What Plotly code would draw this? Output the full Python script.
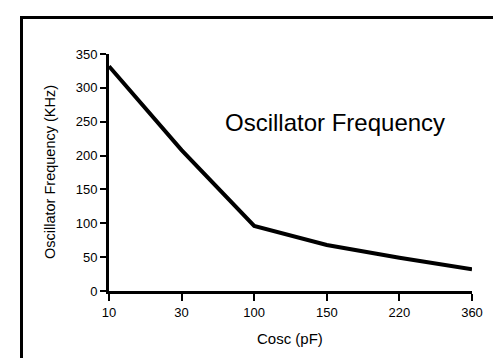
import plotly.graph_objects as go

categories = ["10", "30", "100", "150", "220", "360"]
frequency_khz = [332, 208, 96, 68, 49, 32]
y_ticks = [0, 50, 100, 150, 200, 250, 300, 350]

W, H = 501, 358
L, R, T, B = 101, 37, 46, 75
pw, ph = W - L - R, H - T - B

def px(x):
    return (x - L) / pw

def py(y):
    return (H - B - y) / ph

font = "Liberation Sans, Arial, Helvetica, sans-serif"

fig = go.Figure()
fig.add_trace(go.Scatter(
    x=categories, y=frequency_khz, mode="lines",
    line=dict(color="black", width=4), showlegend=False, cliponaxis=False,
))

fig.update_layout(
    width=W, height=H,
    margin=dict(l=L, r=R, t=T, b=B, pad=0),
    paper_bgcolor="white", plot_bgcolor="white",
    font=dict(family=font, color="black", size=13),
    xaxis=dict(
        type="category", range=[0, 5], showgrid=False, zeroline=False,
        showline=True, linecolor="black", linewidth=3,
        ticks="outside", ticklen=7, tickwidth=2, tickcolor="black",
        tickfont=dict(size=13, family=font, color="black"),
    ),
    yaxis=dict(
        range=[0, 350], tickvals=y_ticks, showgrid=False, zeroline=False,
        showline=True, linecolor="black", linewidth=3,
        ticks="outside", ticklen=6, tickwidth=2, tickcolor="black",
        tickfont=dict(size=13, family=font, color="black"),
    ),
    annotations=[
        dict(text="Oscillator Frequency", xref="paper", yref="paper",
             x=px(215), y=py(114), xanchor="left", yanchor="middle",
             showarrow=False, font=dict(size=24, family=font, color="black")),
        dict(text="Oscillator Frequency (KHz)", xref="paper", yref="paper",
             x=px(42), y=py(164), xanchor="center", yanchor="middle",
             textangle=-90, showarrow=False,
             font=dict(size=14.5, family=font, color="black")),
        dict(text="Cosc (pF)", xref="paper", yref="paper",
             x=px(282), y=py(330), xanchor="center", yanchor="middle",
             showarrow=False, font=dict(size=15, family=font, color="black")),
    ],
    shapes=[
        dict(type="line", xref="paper", yref="paper",
             x0=px(12), x1=px(501), y0=py(9.5), y1=py(9.5),
             line=dict(color="black", width=3)),
        dict(type="line", xref="paper", yref="paper",
             x0=px(13.5), x1=px(13.5), y0=py(9), y1=py(357),
             line=dict(color="black", width=3)),
        dict(type="line", xref="paper", yref="paper",
             x0=px(12), x1=px(90), y0=py(356.5), y1=py(356.5),
             line=dict(color="#555555", width=1.5)),
    ],
)

fig.write_html("out.html")
